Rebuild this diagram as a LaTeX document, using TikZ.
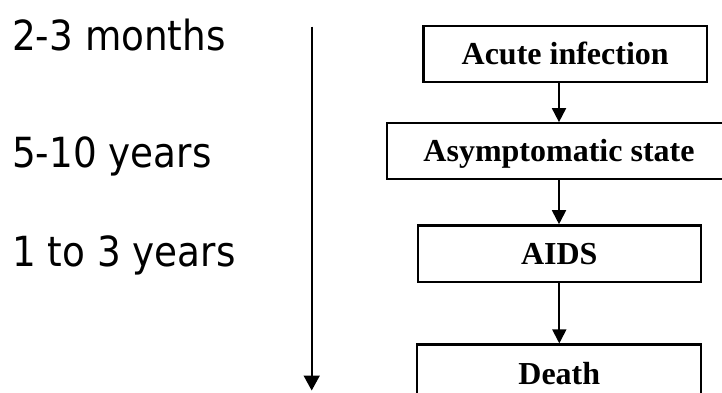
\documentclass[tikz,border=0pt]{standalone}
\usepackage{fontspec}
\setmainfont{Liberation Serif}
\newfontfamily\tah[FakeStretch=0.9]{DejaVu Sans}
\usetikzlibrary{arrows.meta}
\tikzset{
  stagebox/.style={draw=black, line width=2.3pt, inner sep=0pt, font=\bfseries\fontsize{32}{32}\selectfont,
    text height=21pt, text depth=0pt},
  flowarrow/.style={line width=1.8pt, -{Triangle[length=14pt,width=14pt]}},
  timearrow/.style={line width=1.8pt, -{Triangle[length=15pt,width=16pt]}},
  period/.style={anchor=base west, inner sep=0pt, font=\tah\fontsize{41.5}{41.5}\selectfont}
}
\begin{document}
\begin{tikzpicture}[x=1pt,y=-1pt]
\useasboundingbox (0,0) rectangle (722,392);
\clip (0,0) rectangle (722,392);
\fill[white] (0,0) rectangle (722,392);
% periods
\node[period] (p1) at (12,50) {2-3 months};
\node[period] (p2) at (12,167) {5-10 years};
\node[period] (p3) at (12,266.5) {1 to 3 years};
% time axis
\coordinate (ttop) at (311.7,26.7);
\coordinate (tbot) at (311.7,390.5);
\draw[timearrow] (ttop) -- (tbot);
% stages
\node[stagebox, minimum width=283.7pt, minimum height=55.7pt] (acute) at (565.2,53.9) {Acute infection};
\node[stagebox, minimum width=344.6pt, minimum height=56pt] (asym) at (559,151.3) {Asymptomatic state};
\node[stagebox, minimum width=283.3pt, minimum height=56.7pt] (aids) at (559.3,253.7) {AIDS};
\node[stagebox, minimum width=284pt, minimum height=58pt] (death) at (559.3,373.5) {Death};
% connectors
\draw[flowarrow] (acute.south -| asym.north) -- (asym.north);
\draw[flowarrow] (asym.south) -- (asym.south |- aids.north);
\draw[flowarrow] (aids.south) -- (aids.south |- death.north);
\end{tikzpicture}
\end{document}
